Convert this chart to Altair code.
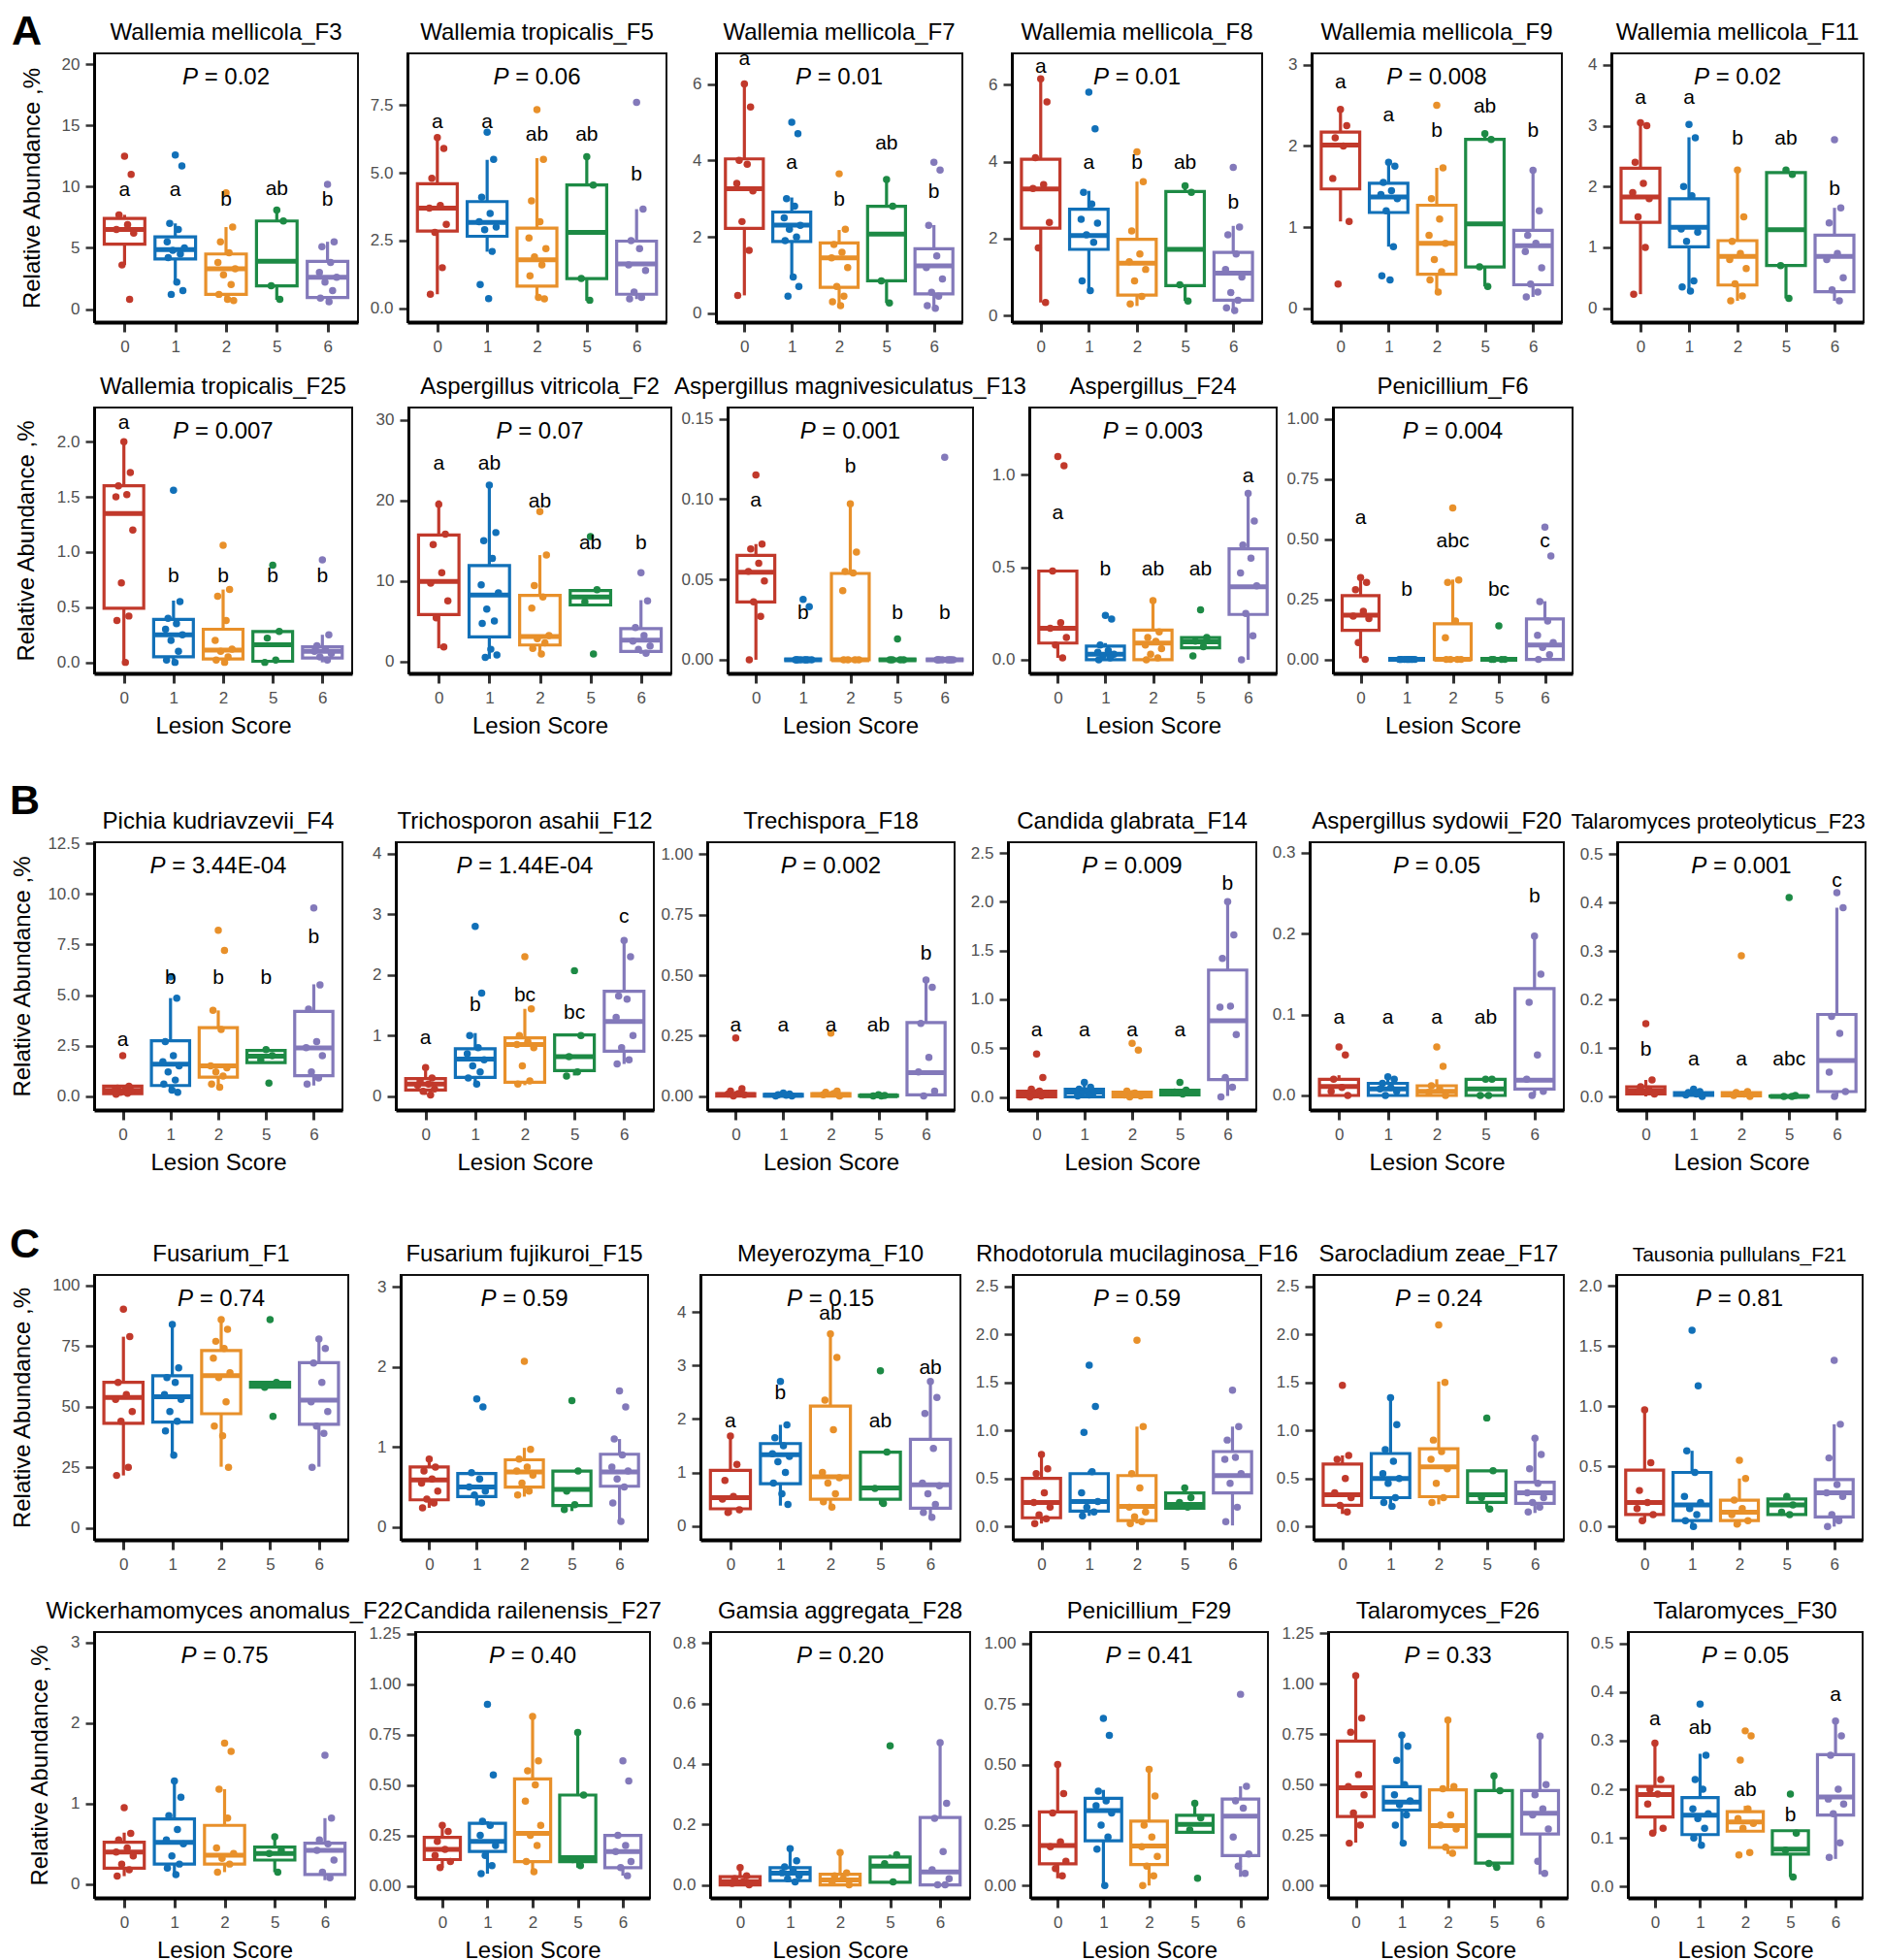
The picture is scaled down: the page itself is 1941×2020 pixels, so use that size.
import altair as alt
import pandas as pd

FONT = "Liberation Sans"
GROUPS = ["0", "1", "2", "5", "6"]
COLORS = ["#C1392B", "#1170B8", "#E8902A", "#1D8A45", "#8379BA"]
JITTER = [0.0, 0.13, -0.11, 0.06, -0.16, 0.18, -0.05, 0.1, -0.14, 0.03, 0.15, -0.08]

# ---- data: box = (low whisker, q1, median, q3, high whisker) per lesion score group ----
F3_BOX = [(3.6, 5.3, 6.5, 7.4, 7.7), (2.15, 4.1, 4.85, 5.9, 7.0), (0.7, 1.2, 3.3, 4.5, 6.7), (0.75, 1.9, 3.9, 7.2, 8.1), (0.4, 0.95, 2.6, 3.9, 5.5)]
F3_PTS = [[12.5, 11.0, 7.7, 6.9, 6.5, 6.2, 3.6, 0.8], [12.6, 11.7, 7.0, 6.5, 5.5, 5.0, 4.8, 4.5, 4.2, 2.2, 1.5, 1.2], [9.5, 6.7, 5.5, 4.6, 3.8, 3.3, 2.8, 2.0, 1.2, 0.8, 0.7], [8.1, 7.2, 1.9, 0.8], [10.2, 5.5, 5.1, 3.8, 3.0, 2.6, 2.2, 1.5, 0.9, 0.6]]
F3_LET = [("a", 9.7), ("a", 9.7), ("b", 8.9), ("ab", 9.8), ("b", 8.9)]

F5_BOX = [(0.52, 2.85, 3.7, 4.6, 6.32), (2.09, 2.66, 3.17, 3.94, 5.48), (0.34, 0.82, 1.79, 2.96, 5.54), (0.28, 1.1, 2.8, 4.55, 5.6), (0.34, 0.52, 1.64, 2.48, 3.66)]
F5_PTS = [[6.3, 5.9, 4.8, 3.8, 3.7, 3.1, 2.8, 1.5, 0.52], [6.5, 5.5, 4.1, 3.5, 3.2, 3.0, 2.9, 2.1, 0.88, 0.36], [7.33, 5.5, 3.97, 3.2, 2.6, 2.2, 1.9, 1.6, 1.2, 0.4, 0.35], [5.6, 4.55, 1.1, 0.3], [7.6, 3.66, 2.5, 2.2, 1.6, 1.4, 0.6, 0.4, 0.35]]
F5_LET = [("a", 6.87), ("a", 6.87), ("ab", 6.41), ("ab", 6.41), ("b", 4.93)]

F7_BOX = [(0.47, 2.22, 3.26, 4.04, 6.0), (0.94, 1.88, 2.31, 2.65, 3.03), (0.21, 0.68, 1.45, 1.84, 2.18), (0.27, 0.85, 2.07, 2.8, 3.52), (0.13, 0.51, 1.24, 1.69, 2.31)]
F7_PTS = [[6.0, 5.4, 4.0, 3.9, 3.4, 3.2, 2.4, 1.65, 0.47], [5.0, 4.7, 3.0, 2.8, 2.5, 2.3, 2.2, 2.0, 1.9, 0.95, 0.7, 0.45], [3.65, 2.2, 1.8, 1.6, 1.45, 1.2, 0.7, 0.45, 0.3, 0.2], [3.5, 2.8, 0.85, 0.27], [3.95, 3.75, 2.3, 1.5, 1.2, 0.9, 0.55, 0.45, 0.2, 0.13]]
F7_LET = [("a", 6.65), ("a", 3.93), ("b", 2.97), ("ab", 4.44), ("b", 3.16)]

F8_BOX = [(0.34, 2.27, 3.29, 4.06, 6.15), (0.64, 1.72, 2.08, 2.76, 3.24), (0.25, 0.53, 1.36, 1.98, 3.48), (0.38, 0.78, 1.72, 3.22, 3.37), (0.13, 0.4, 1.1, 1.64, 2.33)]
F8_PTS = [[6.15, 5.55, 4.1, 3.4, 3.3, 2.42, 1.76, 0.34], [5.8, 4.85, 3.2, 2.9, 2.5, 2.4, 2.1, 1.9, 0.9, 0.65], [4.25, 3.48, 2.2, 1.6, 1.4, 1.2, 0.9, 0.5, 0.3], [3.37, 3.2, 0.8, 0.38], [3.85, 2.3, 2.1, 1.6, 1.2, 1.0, 0.6, 0.4, 0.2, 0.13]]
F8_LET = [("a", 6.45), ("a", 3.95), ("b", 3.95), ("ab", 3.95), ("b", 2.94)]

F9_BOX = [(1.07, 1.47, 2.01, 2.17, 2.46), (0.76, 1.18, 1.37, 1.54, 1.8), (0.18, 0.42, 0.8, 1.27, 1.73), (0.27, 0.51, 1.04, 2.08, 2.15), (0.14, 0.29, 0.77, 0.96, 1.7)]
F9_PTS = [[2.45, 2.25, 2.1, 2.0, 1.6, 1.07, 0.3], [1.8, 1.75, 1.55, 1.45, 1.4, 1.35, 1.2, 0.76, 0.4, 0.35], [2.5, 1.73, 1.35, 1.1, 0.9, 0.8, 0.6, 0.45, 0.35, 0.2], [2.15, 2.08, 0.51, 0.27], [1.7, 1.2, 0.9, 0.8, 0.7, 0.5, 0.3, 0.2, 0.14]]
F9_LET = [("a", 2.78), ("a", 2.38), ("b", 2.19), ("ab", 2.48), ("b", 2.19)]

F11_BOX = [(0.23, 1.41, 1.83, 2.3, 3.02), (0.28, 1.01, 1.33, 1.8, 2.81), (0.12, 0.38, 0.85, 1.11, 2.27), (0.16, 0.7, 1.29, 2.23, 2.27), (0.12, 0.27, 0.85, 1.2, 1.65)]
F11_PTS = [[3.05, 3.0, 2.4, 2.05, 1.9, 1.8, 1.5, 1.0, 0.23], [3.02, 2.8, 2.0, 1.85, 1.3, 1.25, 1.1, 0.45, 0.35, 0.28], [2.27, 1.5, 1.1, 0.9, 0.8, 0.65, 0.4, 0.2, 0.12], [2.27, 2.2, 0.7, 0.16], [2.77, 1.65, 1.4, 0.9, 0.8, 0.5, 0.3, 0.12]]
F11_LET = [("a", 3.45), ("a", 3.45), ("b", 2.78), ("ab", 2.78), ("b", 1.96)]

F25_BOX = [(0.0, 0.49, 1.35, 1.6, 1.99), (0.0, 0.05, 0.25, 0.39, 0.56), (0.0, 0.03, 0.11, 0.3, 0.66), (0.0, 0.01, 0.16, 0.28, 0.28), (0.0, 0.04, 0.1, 0.14, 0.25)]
F25_PTS = [[2.0, 1.72, 1.6, 1.52, 1.5, 1.2, 0.72, 0.42, 0.38, 0.0], [1.56, 0.55, 0.4, 0.35, 0.3, 0.25, 0.2, 0.1, 0.02, 0.0], [1.06, 0.66, 0.6, 0.38, 0.2, 0.12, 0.1, 0.05, 0.02, 0.0], [0.88, 0.28, 0.22, 0.02, 0.0], [0.93, 0.25, 0.15, 0.12, 0.1, 0.08, 0.05, 0.02]]
F25_LET = [("a", 2.17), ("b", 0.78), ("b", 0.78), ("b", 0.78), ("b", 0.78)]

F2_BOX = [(1.62, 5.8, 9.93, 15.7, 20.0), (0.32, 3.04, 8.23, 11.9, 21.9), (0.73, 2.03, 3.08, 8.2, 13.2), (7.0, 7.0, 8.0, 8.8, 8.8), (0.93, 1.22, 2.63, 4.05, 7.6)]
F2_PTS = [[19.5, 15.8, 14.5, 11.0, 9.7, 7.5, 5.4, 1.8], [21.9, 16.0, 15.0, 12.8, 9.5, 8.5, 6.5, 5.0, 4.7, 1.5, 0.8, 0.5], [18.6, 13.2, 9.4, 8.0, 6.6, 3.2, 2.8, 2.3, 1.6, 0.9], [15.5, 8.9, 7.4, 0.9], [11.0, 7.5, 4.2, 3.2, 2.5, 1.9, 1.5, 1.0]]
F2_LET = [("a", 24.6), ("ab", 24.6), ("ab", 19.8), ("ab", 14.7), ("b", 14.7)]

F13_BOX = [(0.0, 0.036, 0.0545, 0.065, 0.072), (0, 0, 0, 0, 0), (0.0, 0.0, 0.0, 0.0537, 0.0975), (0, 0, 0, 0, 0), (0, 0, 0, 0, 0)]
F13_PTS = [[0.115, 0.072, 0.069, 0.06, 0.055, 0.049, 0.036, 0.027, 0.0], [0.0375, 0.033, 0, 0, 0, 0, 0, 0, 0, 0], [0.097, 0.067, 0.055, 0.054, 0.043, 0, 0, 0, 0], [0.013, 0, 0, 0, 0], [0.126, 0, 0, 0, 0, 0, 0, 0, 0]]
F13_LET = [("a", 0.099), ("b", 0.029), ("b", 0.12), ("b", 0.029), ("b", 0.029)]

F24_BOX = [(0.01, 0.09, 0.17, 0.48, 0.48), (0.0, 0.0, 0.03, 0.074, 0.09), (0.0, 0.0, 0.09, 0.16, 0.32), (0.065, 0.065, 0.097, 0.12, 0.12), (0.0, 0.245, 0.395, 0.6, 0.9)]
F24_PTS = [[1.1, 1.05, 0.48, 0.2, 0.17, 0.12, 0.08, 0.01], [0.24, 0.22, 0.08, 0.05, 0.04, 0.03, 0.02, 0.01, 0.0], [0.32, 0.15, 0.12, 0.1, 0.08, 0.06, 0.03, 0.01, 0.0], [0.27, 0.12, 0.1, 0.07, 0.02], [0.9, 0.75, 0.62, 0.55, 0.47, 0.4, 0.25, 0.13, 0.0]]
F24_LET = [("a", 0.79), ("b", 0.49), ("ab", 0.49), ("ab", 0.49), ("a", 0.99)]

F6_BOX = [(0.004, 0.121, 0.184, 0.265, 0.343), (0, 0, 0, 0, 0), (0, 0, 0, 0.148, 0.332), (0, 0, 0, 0, 0), (0, 0, 0.06, 0.168, 0.242)]
F6_PTS = [[0.34, 0.32, 0.29, 0.2, 0.18, 0.17, 0.07, 0.0], [0, 0, 0, 0, 0, 0, 0, 0, 0, 0], [0.63, 0.33, 0.32, 0.16, 0.09, 0, 0, 0, 0], [0.14, 0, 0, 0, 0], [0.55, 0.43, 0.24, 0.16, 0.1, 0.07, 0.05, 0.02, 0.0]]
F6_LET = [("a", 0.588), ("b", 0.289), ("abc", 0.49), ("bc", 0.289), ("c", 0.49)]

F4_BOX = [(0.08, 0.13, 0.29, 0.5, 0.56), (0.21, 0.53, 1.58, 2.74, 4.85), (0.45, 0.94, 1.5, 3.39, 4.24), (1.66, 1.66, 1.98, 2.26, 2.26), (0.53, 1.02, 2.39, 4.19, 5.53)]
F4_PTS = [[2.0, 0.5, 0.4, 0.35, 0.3, 0.25, 0.2, 0.15, 0.1], [5.9, 4.85, 2.7, 2.0, 1.7, 1.5, 1.2, 0.8, 0.6, 0.3, 0.2], [8.2, 7.2, 4.24, 3.3, 1.5, 1.4, 1.2, 1.0, 0.6, 0.45], [2.3, 2.0, 1.8, 0.65], [9.3, 5.5, 4.3, 2.7, 2.4, 2.0, 1.2, 0.9, 0.6]]
F4_LET = [("a", 2.79), ("b", 5.85), ("b", 5.85), ("b", 5.85), ("b", 7.87)]

F12_BOX = [(0.02, 0.1, 0.2, 0.29, 0.42), (0.18, 0.31, 0.61, 0.78, 1.04), (0.18, 0.23, 0.85, 0.96, 1.44), (0.34, 0.42, 0.65, 1.01, 1.01), (0.53, 0.74, 1.23, 1.73, 2.57)]
F12_PTS = [[0.47, 0.3, 0.25, 0.2, 0.18, 0.12, 0.08, 0.02], [2.8, 1.7, 1.0, 0.8, 0.7, 0.6, 0.5, 0.4, 0.3, 0.2], [2.3, 1.44, 1.0, 0.9, 0.85, 0.8, 0.5, 0.25, 0.2], [2.07, 1.0, 0.65, 0.4, 0.33], [2.57, 2.3, 1.65, 1.6, 1.3, 1.0, 0.8, 0.6, 0.53]]
F12_LET = [("a", 0.96), ("b", 1.5), ("bc", 1.66), ("bc", 1.37), ("c", 2.96)]

F18_BOX = [(0, 0, 0.005, 0.01, 0.02), (0, 0, 0.003, 0.007, 0.012), (0, 0, 0.005, 0.01, 0.02), (0, 0, 0.001, 0.003, 0.005), (0.0, 0.005, 0.097, 0.304, 0.48)]
F18_PTS = [[0.24, 0.03, 0.02, 0.01, 0.008, 0.005, 0.0], [0.012, 0.008, 0.005, 0.003, 0.0, 0.0], [0.26, 0.02, 0.015, 0.01, 0.005, 0.0], [0.005, 0.002, 0.0, 0.0], [0.48, 0.45, 0.3, 0.16, 0.1, 0.02, 0.0]]
F18_LET = [("a", 0.29), ("a", 0.29), ("a", 0.29), ("ab", 0.29), ("b", 0.59)]

F14_BOX = [(0, 0, 0.03, 0.06, 0.08), (0, 0, 0.05, 0.08, 0.17), (0, 0, 0.02, 0.05, 0.07), (0.02, 0.02, 0.04, 0.07, 0.07), (0.01, 0.177, 0.78, 1.3, 1.99)]
F14_PTS = [[0.44, 0.2, 0.08, 0.06, 0.04, 0.03, 0.02, 0.01, 0.0], [0.15, 0.1, 0.08, 0.06, 0.05, 0.04, 0.03, 0.02, 0.01], [0.55, 0.48, 0.06, 0.04, 0.02, 0.01, 0.0], [0.15, 0.07, 0.05, 0.03], [2.0, 1.66, 1.42, 0.93, 0.92, 0.64, 0.2, 0.1, 0.0]]
F14_LET = [("a", 0.68), ("a", 0.68), ("a", 0.68), ("a", 0.68), ("b", 2.18)]

F20_BOX = [(0, 0, 0.011, 0.02, 0.025), (0, 0, 0.008, 0.015, 0.023), (0, 0, 0.005, 0.012, 0.02), (0, 0, 0.008, 0.02, 0.02), (0, 0.008, 0.019, 0.132, 0.197)]
F20_PTS = [[0.06, 0.05, 0.02, 0.01, 0.005, 0.0], [0.023, 0.02, 0.015, 0.01, 0.008, 0.005, 0.0], [0.06, 0.036, 0.012, 0.008, 0.004, 0.0], [0.02, 0.02, 0.0, 0.0], [0.197, 0.15, 0.115, 0.05, 0.02, 0.005, 0.0]]
F20_LET = [("a", 0.096), ("a", 0.096), ("a", 0.096), ("ab", 0.096), ("b", 0.246)]

F23_BOX = [(0, 0.005, 0.012, 0.02, 0.034), (0, 0.002, 0.005, 0.008, 0.015), (0, 0.001, 0.004, 0.008, 0.012), (0, 0, 0, 0.001, 0.002), (0, 0.01, 0.074, 0.169, 0.389)]
F23_PTS = [[0.15, 0.034, 0.02, 0.015, 0.01, 0.005], [0.015, 0.01, 0.008, 0.005, 0.003, 0.0], [0.29, 0.01, 0.008, 0.005, 0.002, 0.0], [0.41, 0.002, 0.0, 0.0], [0.42, 0.389, 0.165, 0.13, 0.05, 0.01, 0.0]]
F23_LET = [("b", 0.096), ("a", 0.076), ("a", 0.076), ("abc", 0.076), ("c", 0.445)]

F1_BOX = [(21.6, 43.1, 53.8, 60.1, 78.9), (30.0, 43.6, 54.1, 62.8, 84.3), (25.2, 47.1, 62.8, 73.2, 86.3), (58.1, 58.1, 59.0, 60.1, 60.1), (25.2, 42.7, 52.7, 68.2, 78.9)]
F1_PTS = [[90.3, 79, 60, 55, 53, 48, 44, 25, 21.6], [84, 66, 62, 60, 55, 53, 48, 44, 40, 30], [86, 82, 77, 74, 70, 64, 62, 52, 42, 38, 25], [86, 60, 58, 46], [78, 74, 68, 60, 52, 48, 42, 39, 25]]
F1_LET = []

F15_BOX = [(0.24, 0.34, 0.59, 0.75, 0.85), (0.27, 0.38, 0.5, 0.67, 0.69), (0.38, 0.5, 0.69, 0.84, 0.99), (0.2, 0.27, 0.47, 0.7, 0.7), (0.07, 0.51, 0.69, 0.91, 1.1)]
F15_PTS = [[0.85, 0.75, 0.7, 0.6, 0.55, 0.45, 0.35, 0.3, 0.24], [1.6, 1.5, 0.68, 0.6, 0.5, 0.45, 0.4, 0.3], [2.07, 0.97, 0.85, 0.75, 0.7, 0.65, 0.55, 0.45, 0.4], [1.58, 0.7, 0.45, 0.28, 0.22], [1.7, 1.5, 1.1, 0.9, 0.75, 0.7, 0.6, 0.5, 0.3, 0.07]]
F15_LET = []

F10_BOX = [(0.22, 0.32, 0.53, 1.04, 1.68), (0.38, 0.79, 1.33, 1.54, 1.89), (0.35, 0.5, 0.92, 2.24, 3.59), (0.4, 0.5, 0.71, 1.38, 1.38), (0.16, 0.33, 0.77, 1.62, 2.71)]
F10_PTS = [[1.68, 1.15, 0.85, 0.55, 0.5, 0.3, 0.25], [2.7, 1.89, 1.65, 1.5, 1.35, 1.3, 1.2, 1.0, 0.8, 0.6, 0.4], [3.59, 3.15, 2.35, 1.8, 1.0, 0.9, 0.8, 0.6, 0.45, 0.35], [2.9, 1.38, 0.7, 0.42], [2.7, 2.4, 2.1, 1.45, 0.8, 0.75, 0.6, 0.4, 0.25, 0.16]]
F10_LET = [("a", 1.95), ("b", 2.47), ("ab", 3.96), ("ab", 1.96), ("ab", 2.95)]

F16_BOX = [(0.03, 0.09, 0.25, 0.5, 0.75), (0.11, 0.16, 0.26, 0.55, 0.58), (0.03, 0.06, 0.21, 0.53, 1.04), (0.19, 0.19, 0.23, 0.35, 0.4), (0.01, 0.35, 0.53, 0.78, 1.04)]
F16_PTS = [[0.75, 0.6, 0.55, 0.35, 0.25, 0.2, 0.12, 0.08, 0.03], [1.68, 1.25, 0.98, 0.57, 0.35, 0.26, 0.2, 0.15, 0.11], [1.94, 1.04, 0.55, 0.4, 0.2, 0.15, 0.1, 0.05, 0.03], [0.4, 0.3, 0.25, 0.2], [1.42, 1.04, 0.9, 0.72, 0.7, 0.55, 0.45, 0.2, 0.05]]
F16_LET = []

F17_BOX = [(0.13, 0.22, 0.33, 0.65, 0.74), (0.21, 0.3, 0.5, 0.76, 1.34), (0.23, 0.31, 0.62, 0.81, 1.51), (0.18, 0.25, 0.33, 0.58, 0.58), (0.14, 0.24, 0.35, 0.46, 0.92)]
F17_PTS = [[1.47, 0.74, 0.7, 0.5, 0.35, 0.3, 0.22, 0.15], [1.34, 1.06, 0.8, 0.68, 0.55, 0.5, 0.45, 0.3, 0.25, 0.21], [2.1, 1.5, 0.9, 0.78, 0.7, 0.6, 0.45, 0.3, 0.25], [1.13, 0.58, 0.3, 0.18], [0.92, 0.75, 0.6, 0.45, 0.35, 0.3, 0.25, 0.2, 0.15]]
F17_LET = []

F21_BOX = [(0.04, 0.1, 0.2, 0.47, 0.96), (0.0, 0.05, 0.18, 0.45, 0.63), (0.01, 0.05, 0.12, 0.22, 0.4), (0.1, 0.1, 0.18, 0.23, 0.25), (0.0, 0.08, 0.28, 0.39, 0.85)]
F21_PTS = [[0.97, 0.53, 0.3, 0.2, 0.15, 0.1, 0.05], [1.63, 1.17, 0.63, 0.45, 0.25, 0.2, 0.15, 0.1, 0.05, 0.0], [0.55, 0.4, 0.22, 0.15, 0.1, 0.05, 0.02], [0.25, 0.18, 0.12, 0.1], [1.38, 0.85, 0.57, 0.35, 0.28, 0.25, 0.1, 0.05, 0.0]]
F21_LET = []

F22_BOX = [(0.1, 0.2, 0.4, 0.52, 0.64), (0.1, 0.25, 0.52, 0.81, 1.29), (0.15, 0.25, 0.36, 0.73, 1.18), (0.15, 0.3, 0.38, 0.46, 0.59), (0.05, 0.12, 0.42, 0.51, 0.82)]
F22_PTS = [[0.95, 0.63, 0.55, 0.45, 0.4, 0.35, 0.25, 0.18, 0.1], [1.28, 1.08, 0.85, 0.68, 0.55, 0.5, 0.35, 0.25, 0.2, 0.12], [1.75, 1.65, 1.18, 0.82, 0.45, 0.38, 0.32, 0.25, 0.15], [0.59, 0.42, 0.38, 0.15], [1.6, 0.82, 0.55, 0.5, 0.42, 0.3, 0.15, 0.08]]
F22_LET = []

F27_BOX = [(0.09, 0.13, 0.18, 0.24, 0.3), (0.06, 0.17, 0.22, 0.31, 0.32), (0.06, 0.12, 0.26, 0.53, 0.85), (0.09, 0.12, 0.14, 0.45, 0.76), (0.05, 0.09, 0.17, 0.25, 0.25)]
F27_PTS = [[0.3, 0.27, 0.22, 0.18, 0.15, 0.12, 0.09], [0.9, 0.55, 0.32, 0.3, 0.25, 0.2, 0.15, 0.1, 0.06], [0.84, 0.62, 0.57, 0.5, 0.42, 0.3, 0.25, 0.2, 0.12, 0.07], [0.76, 0.45, 0.13, 0.1], [0.62, 0.52, 0.25, 0.2, 0.17, 0.12, 0.09, 0.05]]
F27_LET = []

F28_BOX = [(0, 0, 0.011, 0.027, 0.057), (0.01, 0.014, 0.039, 0.057, 0.12), (0, 0, 0.016, 0.035, 0.107), (0.009, 0.009, 0.062, 0.092, 0.1), (0, 0, 0.043, 0.223, 0.47)]
F28_PTS = [[0.057, 0.03, 0.02, 0.01, 0.005, 0.0], [0.12, 0.08, 0.06, 0.05, 0.04, 0.03, 0.02, 0.01], [0.107, 0.04, 0.03, 0.02, 0.01, 0.0], [0.46, 0.1, 0.07, 0.01], [0.47, 0.27, 0.22, 0.11, 0.05, 0.02, 0.0, 0.0]]
F28_LET = []

F29_BOX = [(0.03, 0.09, 0.165, 0.304, 0.5), (0.0, 0.185, 0.31, 0.36, 0.395), (0.0, 0.087, 0.163, 0.266, 0.48), (0.22, 0.22, 0.253, 0.29, 0.34), (0.036, 0.124, 0.287, 0.357, 0.41)]
F29_PTS = [[0.5, 0.38, 0.3, 0.18, 0.16, 0.1, 0.07, 0.04], [0.69, 0.62, 0.39, 0.35, 0.33, 0.3, 0.25, 0.2, 0.15, 0.0], [0.48, 0.37, 0.25, 0.2, 0.16, 0.12, 0.08, 0.04, 0.0], [0.34, 0.28, 0.23, 0.03], [0.79, 0.41, 0.35, 0.32, 0.2, 0.13, 0.08, 0.05]]
F29_LET = []

F26_BOX = [(0.213, 0.342, 0.484, 0.716, 1.04), (0.213, 0.374, 0.414, 0.49, 0.745), (0.156, 0.189, 0.297, 0.474, 0.82), (0.092, 0.111, 0.248, 0.471, 0.544), (0.055, 0.256, 0.358, 0.471, 0.74)]
F26_PTS = [[1.04, 0.83, 0.76, 0.55, 0.49, 0.45, 0.36, 0.3, 0.21], [0.745, 0.69, 0.62, 0.5, 0.45, 0.42, 0.4, 0.35, 0.3, 0.21], [0.82, 0.49, 0.48, 0.35, 0.3, 0.28, 0.19, 0.16], [0.544, 0.47, 0.11, 0.09], [0.74, 0.5, 0.45, 0.38, 0.35, 0.28, 0.12, 0.06]]
F26_LET = []

F30_BOX = [(0.11, 0.143, 0.189, 0.206, 0.295), (0.084, 0.107, 0.147, 0.183, 0.273), (0.114, 0.114, 0.133, 0.154, 0.166), (0.02, 0.067, 0.077, 0.115, 0.115), (0.057, 0.147, 0.184, 0.271, 0.338)]
F30_PTS = [[0.295, 0.22, 0.2, 0.19, 0.17, 0.12, 0.11], [0.375, 0.27, 0.22, 0.2, 0.16, 0.15, 0.14, 0.12, 0.1, 0.085], [0.32, 0.31, 0.26, 0.16, 0.14, 0.13, 0.12, 0.07, 0.065], [0.19, 0.11, 0.075, 0.02], [0.34, 0.31, 0.27, 0.2, 0.18, 0.17, 0.15, 0.09, 0.06]]
F30_LET = [("a", 0.343), ("ab", 0.325), ("ab", 0.198), ("b", 0.147), ("a", 0.394)]

# panel id: (title, P value, y domain, y ticks, tick format, box, points, letters)
META = {
    "F3": ("Wallemia mellicola_F3", "0.02", (-1.07, 20.9), [0, 5, 10, 15, 20], "d", F3_BOX, F3_PTS, F3_LET),
    "F5": ("Wallemia tropicalis_F5", "0.06", (-0.51, 9.41), [0, 2.5, 5, 7.5], ".1f", F5_BOX, F5_PTS, F5_LET),
    "F7": ("Wallemia mellicola_F7", "0.01", (-0.23, 6.8), [0, 2, 4, 6], "d", F7_BOX, F7_PTS, F7_LET),
    "F8": ("Wallemia mellicola_F8", "0.01", (-0.17, 6.81), [0, 2, 4, 6], "d", F8_BOX, F8_PTS, F8_LET),
    "F9": ("Wallemia mellicola_F9", "0.008", (-0.17, 3.14), [0, 1, 2, 3], "d", F9_BOX, F9_PTS, F9_LET),
    "F11": ("Wallemia mellicola_F11", "0.02", (-0.23, 4.19), [0, 1, 2, 3, 4], "d", F11_BOX, F11_PTS, F11_LET),
    "F25": ("Wallemia tropicalis_F25", "0.007", (-0.10, 2.31), [0, 0.5, 1, 1.5, 2], ".1f", F25_BOX, F25_PTS, F25_LET),
    "F2": ("Aspergillus vitricola_F2", "0.07", (-1.5, 31.54), [0, 10, 20, 30], "d", F2_BOX, F2_PTS, F2_LET),
    "F13": ("Aspergillus magnivesiculatus_F13", "0.001", (-0.0085, 0.157), [0, 0.05, 0.1, 0.15], ".2f", F13_BOX, F13_PTS, F13_LET),
    "F24": ("Aspergillus_F24", "0.003", (-0.074, 1.365), [0, 0.5, 1], ".1f", F24_BOX, F24_PTS, F24_LET),
    "F6": ("Penicillium_F6", "0.004", (-0.058, 1.047), [0, 0.25, 0.5, 0.75, 1], ".2f", F6_BOX, F6_PTS, F6_LET),
    "F4": ("Pichia kudriavzevii_F4", "3.44E-04", (-0.68, 12.55), [0, 2.5, 5, 7.5, 10, 12.5], ".1f", F4_BOX, F4_PTS, F4_LET),
    "F12": ("Trichosporon asahii_F12", "1.44E-04", (-0.23, 4.19), [0, 1, 2, 3, 4], "d", F12_BOX, F12_PTS, F12_LET),
    "F18": ("Trechispora_F18", "0.002", (-0.058, 1.05), [0, 0.25, 0.5, 0.75, 1], ".2f", F18_BOX, F18_PTS, F18_LET),
    "F14": ("Candida glabrata_F14", "0.009", (-0.134, 2.61), [0, 0.5, 1, 1.5, 2, 2.5], ".1f", F14_BOX, F14_PTS, F14_LET),
    "F20": ("Aspergillus sydowii_F20", "0.05", (-0.018, 0.313), [0, 0.1, 0.2, 0.3], ".1f", F20_BOX, F20_PTS, F20_LET),
    "F23": ("Talaromyces proteolyticus_F23", "0.001", (-0.028, 0.524), [0, 0.1, 0.2, 0.3, 0.4, 0.5], ".1f", F23_BOX, F23_PTS, F23_LET),
    "F1": ("Fusarium_F1", "0.74", (-5.0, 104.4), [0, 25, 50, 75, 100], "d", F1_BOX, F1_PTS, F1_LET),
    "F15": ("Fusarium fujikuroi_F15", "0.59", (-0.16, 3.15), [0, 1, 2, 3], "d", F15_BOX, F15_PTS, F15_LET),
    "F10": ("Meyerozyma_F10", "0.15", (-0.26, 4.69), [0, 1, 2, 3, 4], "d", F10_BOX, F10_PTS, F10_LET),
    "F16": ("Rhodotorula mucilaginosa_F16", "0.59", (-0.14, 2.62), [0, 0.5, 1, 1.5, 2, 2.5], ".1f", F16_BOX, F16_PTS, F16_LET),
    "F17": ("Sarocladium zeae_F17", "0.24", (-0.14, 2.62), [0, 0.5, 1, 1.5, 2, 2.5], ".1f", F17_BOX, F17_PTS, F17_LET),
    "F21": ("Tausonia pullulans_F21", "0.81", (-0.11, 2.09), [0, 0.5, 1, 1.5, 2], ".1f", F21_BOX, F21_PTS, F21_LET),
    "F22": ("Wickerhamomyces anomalus_F22", "0.75", (-0.17, 3.13), [0, 1, 2, 3], "d", F22_BOX, F22_PTS, F22_LET),
    "F27": ("Candida railenensis_F27", "0.40", (-0.06, 1.258), [0, 0.25, 0.5, 0.75, 1, 1.25], ".2f", F27_BOX, F27_PTS, F27_LET),
    "F28": ("Gamsia aggregata_F28", "0.20", (-0.043, 0.836), [0, 0.2, 0.4, 0.6, 0.8], ".1f", F28_BOX, F28_PTS, F28_LET),
    "F29": ("Penicillium_F29", "0.41", (-0.051, 1.047), [0, 0.25, 0.5, 0.75, 1], ".2f", F29_BOX, F29_PTS, F29_LET),
    "F26": ("Talaromyces_F26", "0.33", (-0.061, 1.256), [0, 0.25, 0.5, 0.75, 1, 1.25], ".2f", F26_BOX, F26_PTS, F26_LET),
    "F30": ("Talaromyces_F30", "0.05", (-0.023, 0.523), [0, 0.1, 0.2, 0.3, 0.4, 0.5], ".1f", F30_BOX, F30_PTS, F30_LET),
}
TITLE_SIZE = {"F21": 21, "F23": 22}
TITLE_DX = {"F23": -24}

ROWS = [
    dict(ids=["F3", "F5", "F7", "F8", "F9", "F11"], widths=[272, 267, 254, 258, 258, 260], height=277,
         spacing=51, letter=("A", -85, -43), xtitle=False, ytpad=12, top=45, bottom=44),
    dict(ids=["F25", "F2", "F13", "F24", "F6"], widths=[266, 271, 253, 255, 247], height=274,
         spacing=58, letter=None, xtitle=True, ytpad=18, top=40, bottom=100),
    dict(ids=["F4", "F12", "F18", "F14", "F20", "F23"], widths=[256, 266, 255, 256, 262, 256], height=276,
         spacing=55, letter=("B", -87, -63), xtitle=True, ytpad=22, top=70, bottom=96),
    dict(ids=["F1", "F15", "F10", "F16", "F17", "F21"], widths=[262, 255, 268, 256, 258, 254], height=273,
         spacing=54, letter=("C", -87, -52), xtitle=False, ytpad=22, top=70, bottom=48),
    dict(ids=["F22", "F27", "F28", "F29", "F26", "F30"], widths=[269, 242, 268, 245, 247, 242], height=274,
         spacing=62, letter=None, xtitle=True, ytpad=4, top=43, bottom=50),
]

CHARW = {"P": 0.667, "=": 0.584, " ": 0.278, ".": 0.278, "E": 0.667, "-": 0.333}


def text_w(s, fs):
    return sum(CHARW.get(c, 0.556) for c in s) * fs


ONE = pd.DataFrame({"k": [0]})


def make_panel(pid, width, height, first, row):
    title, pval, dom, ticks, fmt, box, pts, lets = META[pid]
    xs = alt.Scale(domain=[-0.6, 4.6], nice=False, zero=False)
    ys = alt.Scale(domain=list(dom), nice=False, zero=False)
    cs = alt.Scale(domain=GROUPS, range=COLORS)
    xaxis = alt.Axis(values=[0, 1, 2, 3, 4], labelExpr="['0','1','2','5','6'][datum.value]",
                     title="Lesion Score" if row["xtitle"] else None, labelFlush=False)
    yaxis = alt.Axis(values=ticks, format=fmt,
                     title="Relative Abundance ,%" if first else None, titlePadding=row["ytpad"])

    def X(f):
        return alt.X(f, scale=xs, axis=xaxis)

    def Y(f):
        return alt.Y(f, scale=ys, axis=yaxis)

    bdf = pd.DataFrame([{"i": k, "g": GROUPS[k], "lo": b[0], "q1": b[1], "med": b[2], "q3": b[3], "hi": b[4]}
                        for k, b in enumerate(box)])
    pdf = pd.DataFrame([{"g": GROUPS[k], "xj": k + JITTER[j % len(JITTER)], "v": v}
                        for k, vals in enumerate(pts) for j, v in enumerate(vals)])
    col = alt.Color("g:N", scale=cs, legend=None)

    whisk = alt.Chart(bdf).mark_rule(strokeWidth=3.2).encode(
        x=X("i:Q"), y=Y("lo:Q"), y2="hi:Q", color=col)
    boxl = alt.Chart(bdf).transform_calculate(xa="datum.i - 0.4", xb="datum.i + 0.4").mark_bar(
        fill="white", strokeWidth=3.2).encode(
        x=X("xa:Q"), x2="xb:Q", y=Y("q1:Q"), y2="q3:Q",
        stroke=alt.Stroke("g:N", scale=cs, legend=None))
    med = alt.Chart(bdf).transform_calculate(xa="datum.i - 0.4", xb="datum.i + 0.4").mark_rule(
        strokeWidth=5).encode(x=X("xa:Q"), x2="xb:Q", y=Y("med:Q"), color=col)
    dots = alt.Chart(pdf).mark_circle(size=56, opacity=1).encode(
        x=X("xj:Q"), y=Y("v:Q"), color=col)
    layers = [whisk, boxl, med, dots]

    if lets:
        ldf = pd.DataFrame([{"i": k, "lab": l, "ly": y} for k, (l, y) in enumerate(lets)])
        layers.append(alt.Chart(ldf).mark_text(fontSize=21, font=FONT, baseline="middle", color="black").encode(
            x=X("i:Q"), y=Y("ly:Q"), text="lab:N"))

    # panel title
    layers.append(alt.Chart(pd.DataFrame({"t": [title]})).mark_text(
        fontSize=TITLE_SIZE.get(pid, 24), font=FONT, align="center", baseline="alphabetic", color="black").encode(
        x=alt.value(width / 2 + TITLE_DX.get(pid, 0)), y=alt.value(-14), text="t:N"))

    # P value
    fs = 24
    rest = "= " + pval
    total = text_w("P", fs) + text_w(" ", fs) + text_w(rest, fs)
    x0 = width / 2 - total / 2
    layers.append(alt.Chart(pd.DataFrame({"t": ["P"]})).mark_text(
        fontSize=fs, font=FONT, fontStyle="italic", align="left", baseline="middle", color="black").encode(
        x=alt.value(x0), y=alt.value(25), text="t:N"))
    layers.append(alt.Chart(pd.DataFrame({"t": [rest]})).mark_text(
        fontSize=fs, font=FONT, align="left", baseline="middle", color="black").encode(
        x=alt.value(x0 + text_w("P", fs) + text_w(" ", fs)), y=alt.value(25), text="t:N"))

    if first:
        if row["letter"]:
            lt, lx, ly = row["letter"]
            layers.append(alt.Chart(pd.DataFrame({"t": [lt]})).mark_text(
                fontSize=43, font=FONT, fontWeight="bold", align="left", baseline="top", color="black").encode(
                x=alt.value(lx), y=alt.value(ly), text="t:N"))
        # invisible spacers that fix the row's outer extent
        layers.append(alt.Chart(ONE).mark_rule(color="white", strokeWidth=1).encode(
            x=alt.value(-87), x2=alt.value(-86), y=alt.value(-row["top"])))
        layers.append(alt.Chart(ONE).mark_rule(color="white", strokeWidth=1).encode(
            x=alt.value(-87), x2=alt.value(-86), y=alt.value(height + row["bottom"])))

    return alt.layer(*layers).properties(width=width, height=height)


rows = []
for row in ROWS:
    panels = [make_panel(pid, w, row["height"], k == 0, row)
              for k, (pid, w) in enumerate(zip(row["ids"], row["widths"]))]
    rows.append(alt.hconcat(*panels, spacing=row["spacing"], bounds="flush"))

chart = alt.vconcat(*rows, spacing=0).properties(
    padding={"left": 0, "top": 0, "right": 0, "bottom": 0}
).configure_view(
    stroke="#111111", strokeWidth=2
).configure_axis(
    grid=False, domainColor="#000000", tickColor="#333333", labelColor="#505050",
    labelFont=FONT, labelFontSize=17, titleFont=FONT, titleFontSize=24,
    titleFontWeight="normal", titleColor="#000000"
).configure_axisY(
    domainWidth=3, tickSize=9, tickWidth=2.5, labelPadding=6, minExtent=40, maxExtent=40
).configure_axisX(
    domainWidth=4, tickSize=10, tickWidth=3, labelPadding=7, titlePadding=9
)

chart.save("out.html", embed_options={"renderer": "svg", "actions": False})
